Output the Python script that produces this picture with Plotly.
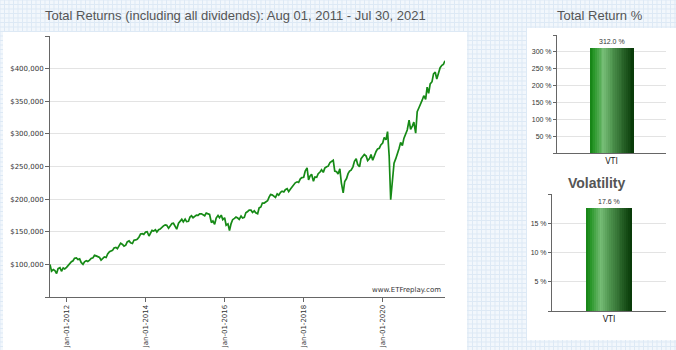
import plotly.graph_objects as go

W, H = 676, 350

# ---- data -------------------------------------------------------------
# Portfolio value in $ thousands, sampled on the 1st and 15th of each month
v2011 = [100.0, 89.5, 92.0, 90.5, 86.0, 93.5, 95.0, 89.5, 94.5, 93.0]
v2012 = [95.5, 98.5, 101.5, 104.0, 105.5, 109.5, 110.0, 107.5, 108.5, 103.0, 100.0, 104.0,
         105.5, 104.5, 106.5, 109.0, 110.0, 114.0, 113.0, 111.5, 110.5, 106.5, 110.0, 111.5]
v2013 = [110.5, 116.0, 119.5, 121.0, 121.5, 125.0, 126.0, 124.0, 128.5, 132.5, 130.5, 128.0,
         129.5, 134.5, 136.0, 133.0, 132.0, 137.0, 137.5, 138.5, 142.0, 146.5, 147.0, 146.0]
v2014 = [149.5, 150.0, 143.5, 148.5, 152.0, 151.0, 153.0, 149.5, 153.0, 154.0, 157.5, 159.0,
         160.5, 160.0, 155.5, 158.5, 162.5, 163.0, 158.5, 154.0, 163.0, 165.5, 169.0, 165.0]
v2015 = [169.5, 165.5, 166.0, 172.5, 174.5, 171.5, 173.0, 175.5, 175.0, 177.5, 177.5, 176.5,
         174.5, 178.5, 177.0, 176.5, 164.0, 166.5, 161.5, 171.0, 175.0, 171.5, 175.5, 168.5]
v2016 = [171.5, 160.0, 162.0, 152.0, 162.5, 168.5, 170.5, 172.5, 171.0, 169.0, 174.0, 171.0,
         172.0, 179.0, 181.0, 183.0, 183.0, 179.5, 182.0, 179.0, 177.5, 186.5, 188.0, 194.0]
v2017 = [194.0, 196.0, 197.5, 203.0, 207.0, 206.5, 205.0, 202.5, 208.0, 206.0, 210.5, 212.0,
         211.0, 214.5, 216.0, 211.5, 215.5, 219.0, 222.5, 225.0, 226.5, 225.5, 231.0, 233.0]
v2018 = [233.5, 243.0, 248.0, 229.5, 235.5, 238.0, 227.5, 234.0, 233.5, 239.0, 241.5, 245.0,
         241.0, 247.5, 249.5, 250.5, 256.0, 257.5, 259.5, 243.0, 242.0, 238.5, 246.5, 225.0]
v2019 = [209.5, 227.0, 231.5, 239.0, 243.0, 244.5, 249.5, 258.0, 262.0, 253.0, 249.5, 262.0,
         266.0, 268.5, 266.0, 259.0, 262.0, 268.5, 259.5, 266.0, 273.0, 277.0, 278.0, 283.0]
v2020 = [286.0, 294.5, 291.0, 303.5, 266.0, 199.0, 226.0, 255.0, 262.0, 268.0, 278.0, 287.0,
         282.0, 293.0, 299.0, 306.0, 321.0, 307.0, 312.0, 318.0, 301.0, 334.0, 340.0, 347.0]
v2021 = [352.0, 358.5, 353.0, 371.5, 362.0, 376.5, 380.0, 392.0, 394.5, 384.0, 396.0, 401.5,
         405.0, 406.5, 412.0]

# sample dates: 1st and 15th of every month Aug-2011 .. Jul-2021, plus the final day
dates = []
for yr in range(2011, 2022):
    for mo in range(1, 13):
        if (yr == 2011 and mo < 8) or (yr == 2021 and mo > 7):
            continue
        dates += [f"{yr}-{mo:02d}-01", f"{yr}-{mo:02d}-15"]
dates.append("2021-07-30")

values_k = v2011 + v2012 + v2013 + v2014 + v2015 + v2016 + v2017 + v2018 + v2019 + v2020 + v2021
values = [v * 1000 for v in values_k]

y_ticks = [50000, 100000, 150000, 200000, 250000, 300000, 350000, 400000, 450000]
x_ticks = ["2012-01-01", "2014-01-01", "2016-01-01", "2018-01-01", "2020-01-01"]

ticker = ["VTI"]
total_return = [312.0]
volatility = [17.6]
tr_ticks = [0, 50, 100, 150, 200, 250, 300, 350]
vol_ticks = [0, 5, 10, 15, 20]

# ---- helpers ----------------------------------------------------------
def px_x(x):
    return x / W


def px_y(y):
    return 1 - y / H


TICK_FONT = dict(family="DejaVu Sans", size=7, color="#333333")
AX_COLOR = "#666666"
GRID = "#e3e3e3"

fig = go.Figure()

# main line
fig.add_trace(go.Scatter(x=dates, y=values, mode="lines",
                         line=dict(color="#168a16", width=1.7),
                         hoverinfo="skip", xaxis="x", yaxis="y"))


# gradient-shaded bars built from thin vertical slices
def grad_color(t):
    stops = [(0.0, (20, 130, 20)), (0.1, (40, 150, 40)), (0.32, (120, 190, 120)),
             (0.5, (80, 150, 80)), (1.0, (6, 55, 6))]
    for (t0, c0), (t1, c1) in zip(stops[:-1], stops[1:]):
        if t0 <= t <= t1:
            f = (t - t0) / (t1 - t0)
            c = [round(a + (b - a) * f) for a, b in zip(c0, c1)]
            return f"rgb({c[0]},{c[1]},{c[2]})"
    return "rgb(6,55,6)"


BAR_W = 0.4
N_SLICES = 24
for vals, xa, ya in [(total_return, "x2", "y2"), (volatility, "x3", "y3")]:
    for i in range(N_SLICES):
        t = (i + 0.5) / N_SLICES
        fig.add_trace(go.Bar(x=ticker, y=vals, width=BAR_W / N_SLICES * 1.15,
                             offset=-BAR_W / 2 + i * BAR_W / N_SLICES,
                             marker=dict(color=grad_color(t), line=dict(width=0)),
                             hoverinfo="skip", xaxis=xa, yaxis=ya))

# ---- axes -------------------------------------------------------------
main_dom_x = [px_x(50), px_x(445)]
main_dom_y = [px_y(297), px_y(36)]

fig.update_layout(
    width=W, height=H, margin=dict(l=0, r=0, t=0, b=0),
    paper_bgcolor="#f2f7fc", plot_bgcolor="rgba(0,0,0,0)",
    showlegend=False, barmode="overlay", bargap=0,
    xaxis=dict(domain=main_dom_x, anchor="y", type="date",
               range=[dates[0], dates[-1]],
               tickvals=x_ticks, tickformat="%b-%d-%Y", tickangle=-90,
               tickfont=TICK_FONT, ticks="outside", ticklen=4, tickcolor=AX_COLOR,
               showline=True, linecolor=AX_COLOR, linewidth=1, showgrid=False,
               zeroline=False),
    yaxis=dict(domain=main_dom_y, anchor="x", range=[y_ticks[0], y_ticks[-1]],
               tickvals=y_ticks,
               ticktext=[""] + [f"${v:,.0f}" for v in y_ticks[1:-1]] + [""],
               tickfont=TICK_FONT, ticks="outside", ticklen=4, tickcolor=AX_COLOR,
               showline=True, linecolor=AX_COLOR, linewidth=1,
               showgrid=True, gridcolor=GRID, gridwidth=1, zeroline=False),
    xaxis2=dict(domain=[px_x(557), px_x(666)], anchor="y2", range=[-0.5, 0.5],
                tickfont=dict(family="DejaVu Sans", size=8, color="#222222"),
                showline=True, linecolor=AX_COLOR, linewidth=1, ticks="",
                showgrid=False),
    yaxis2=dict(domain=[px_y(153), px_y(35)], anchor="x2",
                range=[tr_ticks[0], tr_ticks[-1]], tickvals=tr_ticks,
                ticktext=[""] + [f"{v} %" for v in tr_ticks[1:-1]] + [""],
                tickfont=dict(family="Liberation Sans", size=7, color="#333333"),
                ticks="outside", ticklen=3, tickcolor=AX_COLOR,
                showline=True, linecolor=AX_COLOR, linewidth=1,
                showgrid=True, gridcolor=GRID, zeroline=False),
    xaxis3=dict(domain=[px_x(552), px_x(666)], anchor="y3", range=[-0.5, 0.5],
                tickfont=dict(family="DejaVu Sans", size=8, color="#222222"),
                showline=True, linecolor=AX_COLOR, linewidth=1, ticks="",
                showgrid=False),
    yaxis3=dict(domain=[px_y(311), px_y(194)], anchor="x3",
                range=[vol_ticks[0], vol_ticks[-1]], tickvals=vol_ticks,
                ticktext=[""] + [f"{v} %" for v in vol_ticks[1:-1]] + [""],
                tickfont=dict(family="Liberation Sans", size=7, color="#333333"),
                ticks="outside", ticklen=3, tickcolor=AX_COLOR,
                showline=True, linecolor=AX_COLOR, linewidth=1,
                showgrid=True, gridcolor=GRID, zeroline=False),
)

# light blue graph-paper page background
PAGE_LINE = "#dde9f5"
CELL = 4.5
shapes = []
gx = 0.0
while gx <= W:
    shapes.append(dict(type="line", xref="paper", yref="paper", layer="below",
                       x0=px_x(gx), x1=px_x(gx), y0=0, y1=1,
                       line=dict(color=PAGE_LINE, width=1)))
    gx += CELL
gy = 0.0
while gy <= H:
    shapes.append(dict(type="line", xref="paper", yref="paper", layer="below",
                       x0=0, x1=1, y0=px_y(gy), y1=px_y(gy),
                       line=dict(color=PAGE_LINE, width=1)))
    gy += CELL

# white panels behind the charts
shapes.append(dict(type="rect", xref="paper", yref="paper", layer="below",
                   x0=px_x(3), x1=px_x(467), y0=px_y(350), y1=px_y(32),
                   fillcolor="white", line=dict(width=0)))
shapes.append(dict(type="rect", xref="paper", yref="paper", layer="below",
                   x0=px_x(527), x1=1.0, y0=px_y(340), y1=px_y(28),
                   fillcolor="white", line=dict(width=0)))
fig.update_layout(shapes=shapes)

# ---- text -------------------------------------------------------------
fig.add_annotation(text="Total Returns (including all dividends): Aug 01, 2011 - Jul 30, 2021",
                   xref="paper", yref="paper", x=px_x(235), y=px_y(16),
                   xanchor="center", yanchor="middle", showarrow=False,
                   font=dict(family="Liberation Sans", size=13, color="#555555"))
fig.add_annotation(text="Total Return %", xref="paper", yref="paper",
                   x=px_x(600), y=px_y(16), xanchor="center", yanchor="middle",
                   showarrow=False,
                   font=dict(family="Liberation Sans", size=13, color="#555555"))
fig.add_annotation(text="<b>Volatility</b>", xref="paper", yref="paper",
                   x=px_x(597), y=px_y(183), xanchor="center", yanchor="middle",
                   showarrow=False,
                   font=dict(family="Liberation Sans", size=14, color="#555555"))
fig.add_annotation(text="www.ETFreplay.com", xref="paper", yref="paper",
                   x=main_dom_x[1] - px_x(2), y=main_dom_y[0] + 0.004,
                   xanchor="right", yanchor="bottom", showarrow=False,
                   font=dict(family="DejaVu Sans", size=7, color="#333333"))

for vals, xa, ya in [(total_return, "x2", "y2"), (volatility, "x3", "y3")]:
    fig.add_annotation(text=f"{vals[0]:.1f} %", x=ticker[0], y=vals[0],
                       xref=xa, yref=ya, xanchor="center", yanchor="bottom",
                       yshift=1, showarrow=False,
                       font=dict(family="Liberation Sans", size=7, color="#333333"))

fig.write_html("out.html")
